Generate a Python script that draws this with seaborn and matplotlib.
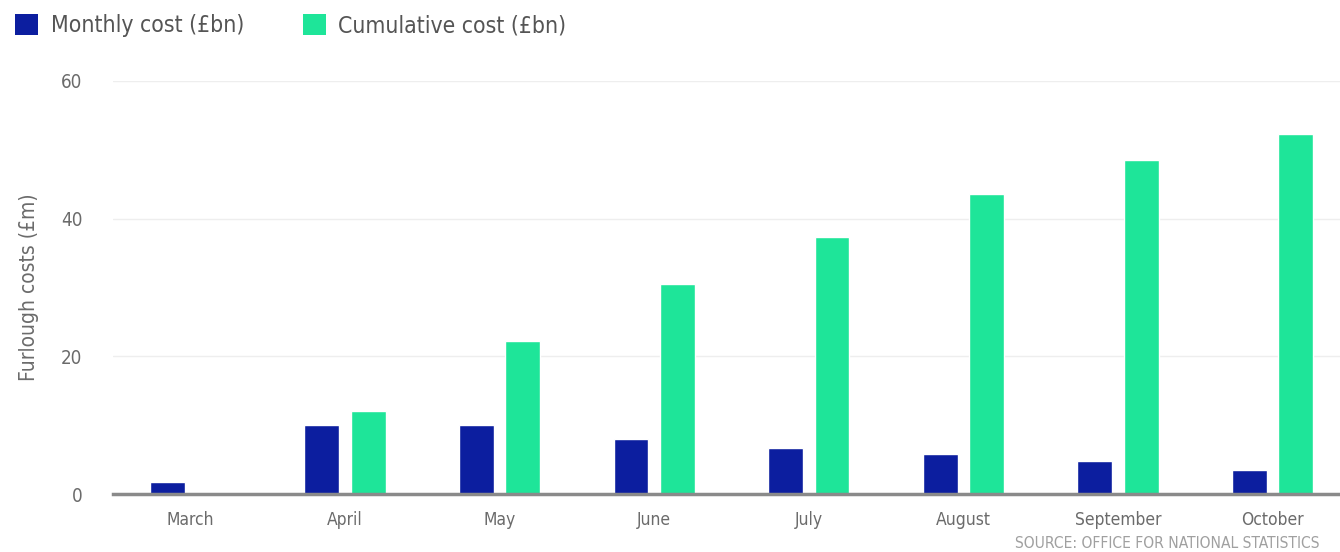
import numpy as np
import pandas as pd
import matplotlib.pyplot as plt
import seaborn as sns
from matplotlib.patches import Patch

# Data (values in £bn)
months = ["March", "April", "May", "June", "July", "August", "September", "October"]
monthly = [1.7, 10.0, 10.0, 8.0, 6.7, 5.8, 4.8, 3.5]
cumulative = [np.nan, 12.1, 22.2, 30.5, 37.4, 43.6, 48.5, 52.3]
series = ["Monthly cost (£bn)", "Cumulative cost (£bn)"]
colors = ["#0c1e9f", "#1ee599"]

df = pd.DataFrame({
    "month": months * 2,
    "value": monthly + cumulative,
    "series": [series[0]] * len(months) + [series[1]] * len(months),
})

sns.set_style("white")
plt.rcParams['font.family'] = ['DejaVu Sans']
plt.rcParams['font.stretch'] = 'condensed'
grey = "#6b6b6b"

fig = plt.figure(figsize=(13.4, 5.52), dpi=100)
ax = fig.add_axes([113 / 1340, 58 / 552, (1350 - 113) / 1340, (494 - 81) / 552])

sns.barplot(data=df, x="month", y="value", hue="series", hue_order=series,
            palette=colors, width=0.6, gap=0.25, saturation=1, ax=ax, legend=False)

ax.set_ylim(0, 60)
ax.set_xlim(-0.5, len(months) - 0.5)
ax.set_yticks([0, 20, 40, 60])
ax.yaxis.grid(True, color="#eeeeee", lw=1)
ax.set_axisbelow(True)
for s in ["left", "right", "top"]:
    ax.spines[s].set_visible(False)
ax.spines["bottom"].set_color("#8a8a8a")
ax.spines["bottom"].set_linewidth(2.5)
ax.tick_params(axis="both", length=0, colors=grey)
ax.tick_params(axis="y", pad=22, labelsize=13.5)
ax.tick_params(axis="x", pad=12, labelsize=12.5)
ax.set_xlabel("")
ax.set_ylabel("Furlough costs (£m)", color=grey, fontsize=15, labelpad=16)

handles = [Patch(facecolor=c, edgecolor="none") for c in colors]
fig.legend(handles, series, loc="upper left", bbox_to_anchor=(-0.004, 1.012), ncol=2,
           frameon=False, fontsize=16.5, labelcolor="#555555", handlelength=1.0,
           handleheight=1.0, handletextpad=0.55, columnspacing=2.55)

fig.text(1015 / 1340, 1 / 552, "SOURCE: OFFICE FOR NATIONAL STATISTICS",
         color="#a0a0a0", fontsize=11.2, ha="left", va="bottom")

plt.savefig("out.png", dpi=100)
